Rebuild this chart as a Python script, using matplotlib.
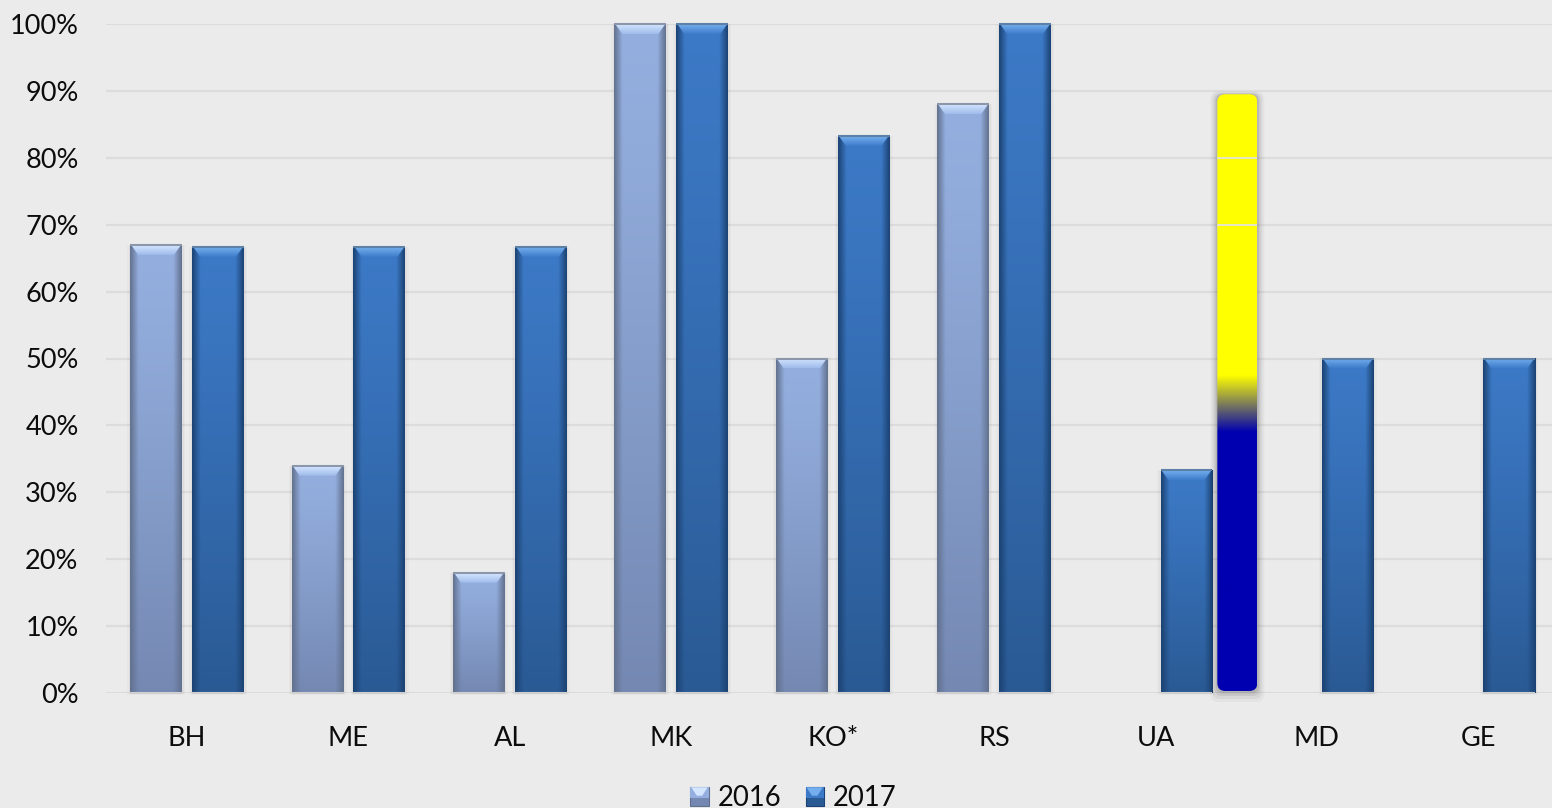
import numpy as np
import matplotlib
matplotlib.use("Agg")
import matplotlib.pyplot as plt
from matplotlib.colors import to_rgb
from matplotlib.patches import FancyBboxPatch, Patch, Polygon, Rectangle
from matplotlib.legend_handler import HandlerBase

categories = ["BH", "ME", "AL", "MK", "KO*", "RS", "UA", "MD", "GE"]
values_2016 = [67, 34, 18, 100, 50, 88, None, None, None]
values_2017 = [66.7, 66.7, 66.7, 100, 83.3, 100, 33.3, 50, 50]
series_names = ["2016", "2017"]
y_ticks = list(range(0, 101, 10))
y_tick_labels = [f"{v}%" for v in y_ticks]

# The opaque redaction strip painted over the chart
strip_category_pos = 6.507
strip_bottom = 0.3
strip_top = 89.5
strip_yellow_from = 47.5
strip_blue_to = 39.0

BG = "#ebebeb"
GRID = "#dcdcdc"
TEXT = "#0c0c0c"
FONT = "Lato"

W, H = 1552, 808
fig = plt.figure(figsize=(W / 100, H / 100), dpi=100, facecolor=BG)
left_px, right_px = 106.4, 1552
y0_px, y100_px = 693, 24
ax = fig.add_axes([left_px / W, 1 - y0_px / H, (right_px - left_px) / W, (y0_px - y100_px) / H])
ax.set_facecolor(BG)
cat_px = 161.4
ax.set_xlim(-0.5, -0.5 + (right_px - left_px) / cat_px)
ax.set_ylim(0, 100)
pct_px = (y0_px - y100_px) / 100.0
for s in ax.spines.values():
    s.set_visible(False)
ax.set_yticks(y_ticks)
ax.set_yticklabels(y_tick_labels)
ax.set_xticks(range(len(categories)))
ax.set_xticklabels(categories)
ax.tick_params(axis="both", length=0, labelsize=19.5, labelcolor=TEXT)
ax.tick_params(axis="y", pad=20)
ax.tick_params(axis="x", pad=24)
for lab in ax.get_xticklabels() + ax.get_yticklabels():
    lab.set_fontfamily(FONT)
ax.grid(axis="y", color=GRID, lw=1.6, zorder=1)
ax.set_axisbelow(True)

styles = {
    "2016": dict(top="#94afdf", bot="#7488b2", edge="#62718e", b1="#d4e6ff", b2="#a0bcec", line="#8c97aa"),
    "2017": dict(top="#3c79c6", bot="#2a5a94", edge="#1b4272", b1="#74aeee", b2="#3f7dca", line="#5c80a6"),
}
bar_w = 52 / cat_px
offset = 31 / cat_px


def bar_image(st):
    n, m = 80, 40
    top, bot = np.array(to_rgb(st["top"])), np.array(to_rgb(st["bot"]))
    edge = np.array(to_rgb(st["edge"]))
    t = (np.linspace(0, 1, n) ** 1.2)[:, None, None]
    img = top[None, None, :] * (1 - t) + bot[None, None, :] * t
    img = np.repeat(img, m, axis=1)
    u = np.linspace(0, 1, m)
    d = np.minimum(u, 1 - u) / 0.16
    k = np.clip(1 - d, 0, 1)[None, :, None] * 0.95
    return img * (1 - k) + edge[None, None, :] * k


def draw_bar(x, v, st):
    x0, x1 = x - bar_w / 2, x + bar_w / 2
    # soft shadow
    for grow, a in ((3, .02), (1.5, .03)):
        ax.add_patch(Rectangle((x0 - grow / cat_px, -grow * .6 / pct_px), bar_w + 2 * grow / cat_px,
                               v + grow * .6 / pct_px, fc="black", ec="none", alpha=a, zorder=2, clip_on=False))
    ax.imshow(bar_image(st), extent=(x0, x1, 0, v), aspect="auto", zorder=3, interpolation="bilinear")
    bh = 10 / pct_px
    ins = 8 / cat_px
    pts = [(x0 + 1 / cat_px, v), (x1 - 1 / cat_px, v), (x1 - ins, v - bh), (x0 + ins, v - bh)]
    grad = np.linspace(0, 1, 20)[:, None, None]
    c = np.array(to_rgb(st["b1"]))[None, None, :] * (1 - grad) + np.array(to_rgb(st["b2"]))[None, None, :] * grad
    im = ax.imshow(c, extent=(x0, x1, v - bh, v), aspect="auto", zorder=4, interpolation="bilinear")
    clip = Polygon(pts, closed=True, transform=ax.transData)
    im.set_clip_path(clip)
    ax.plot([x0, x1], [v, v], color=st["line"], lw=1.5, zorder=5, solid_capstyle="butt", clip_on=False)
    ax.plot([x0, x1], [0, 0], color="#cfcfcf", lw=1.5, zorder=5, solid_capstyle="butt", clip_on=False)


for i, (a, b) in enumerate(zip(values_2016, values_2017)):
    if a is not None:
        draw_bar(i - offset, a, styles["2016"])
    if b is not None:
        draw_bar(i + offset, b, styles["2017"])

# Redaction strip
sw = 40 / cat_px
sx0 = strip_category_pos - sw / 2
aspect = (1 / pct_px) / (1 / cat_px)
rnd = 8 / cat_px
for grow, a, dy in ((7, .03, 4), (5, .05, 3), (3, .07, 2), (1.5, .09, 1)):
    ax.add_patch(FancyBboxPatch((sx0 - grow / cat_px, strip_bottom - (grow + dy) / pct_px),
                                sw + 2 * grow / cat_px, strip_top - strip_bottom + (2 * grow) / pct_px,
                                boxstyle=f"round,pad=0,rounding_size={rnd}", mutation_aspect=aspect,
                                fc="black", ec="none", alpha=a, zorder=6, clip_on=False))
ys = np.linspace(strip_top, strip_bottom, 600)
yellow, blue = np.array(to_rgb("#ffff00")), np.array(to_rgb("#0000b0"))
f = np.clip((strip_yellow_from - ys) / (strip_yellow_from - strip_blue_to), 0, 1)[:, None, None]
gr = yellow[None, None, :] * (1 - f) + blue[None, None, :] * f
im = ax.imshow(gr, extent=(sx0, sx0 + sw, strip_bottom, strip_top), aspect="auto", zorder=7)
clip_box = FancyBboxPatch((sx0, strip_bottom), sw, strip_top - strip_bottom,
                          boxstyle=f"round,pad=0,rounding_size={rnd}", mutation_aspect=aspect,
                          transform=ax.transData, fc="none", ec="none")
ax.add_patch(clip_box)
im.set_clip_path(clip_box)
for gy in (70, 80):
    ax.plot([sx0, sx0 + sw], [gy, gy], color="#e6e6c8", lw=1.4, zorder=8, solid_capstyle="butt")

ax.set_xlim(-0.5, -0.5 + (right_px - left_px) / cat_px)
ax.set_ylim(0, 100)


class BevelHandler(HandlerBase):
    def __init__(self, st):
        super().__init__()
        self.st = st

    def create_artists(self, legend, orig, xd, yd, w, h, fs, trans):
        st = self.st
        base = Rectangle((xd, yd), w, h, fc=st["bot"], ec=st["edge"], lw=0.8, transform=trans)
        top = Rectangle((xd, yd + h * .45), w, h * .55, fc=st["top"], ec="none", transform=trans)
        tri = Polygon([(xd + w * .05, yd + h), (xd + w * .95, yd + h), (xd + w * .65, yd + h * .55),
                       (xd + w * .35, yd + h * .55)], fc=st["b1"], ec="none", transform=trans)
        return [base, top, tri]


handles = [Patch(label=n) for n in series_names]
leg = fig.legend(handles=handles, labels=series_names, loc="center", bbox_to_anchor=(793.5 / W, 1 - 797.5 / H),
                 ncol=2, frameon=False, prop={"family": FONT, "size": 19.8}, handlelength=0.66, handleheight=0.66,
                 handletextpad=0.33, columnspacing=0.88, borderpad=0, labelcolor=TEXT,
                 handler_map={handles[0]: BevelHandler(styles["2016"]), handles[1]: BevelHandler(styles["2017"])})

fig.savefig("out.png", dpi=100, facecolor=BG)
